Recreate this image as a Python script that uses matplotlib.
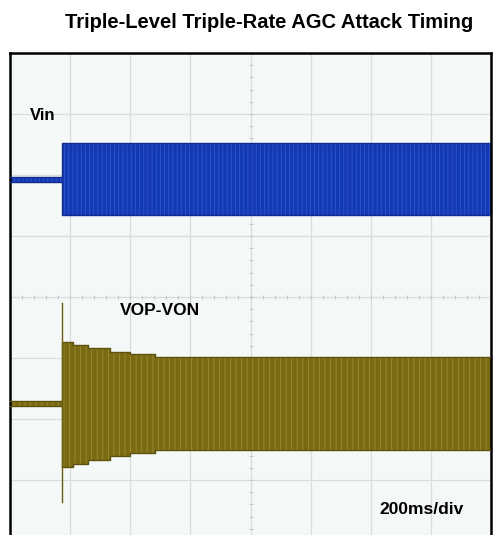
import numpy as np
import matplotlib.pyplot as plt

# screen in divisions: 8 x 8
# Vin envelope (x in div, top / bottom in div)
vin_t = [0.0, 0.86, 0.86, 8.0]
vin_top = [5.97, 5.97, 6.52, 6.52]
vin_bot = [5.89, 5.89, 5.34, 5.34]

# VOP-VON envelope, steps down as the AGC attacks
vop_t = [0.0, 0.86, 0.86, 1.05, 1.30, 1.66, 1.99, 2.41, 8.0]
vop_top = [2.30, 2.30, 3.26, 3.21, 3.16, 3.10, 3.07, 3.02, 3.02]
vop_bot = [2.22, 2.22, 1.21, 1.27, 1.33, 1.39, 1.44, 1.49, 1.51]
spike_t = 0.86
spike_lo, spike_hi = 0.64, 3.90

plt.rcParams['font.family'] = ['Liberation Sans', 'DejaVu Sans']
plt.rcParams['hatch.linewidth'] = 0.6

fig = plt.figure(figsize=(5, 5.35), dpi=100)
fig.text(0.538, 0.958, "Triple-Level Triple-Rate AGC Attack Timing",
         ha='center', va='center', fontsize=14.5, fontweight='bold')

ax = fig.add_axes([0.02, -0.0112, 0.962, 0.912])
ax.set_facecolor('#f4f8f6')
ax.set_axisbelow(True)
ax.set_xlim(0, 8)
ax.set_ylim(0, 8)
ax.set_xticks(range(9))
ax.set_yticks(range(9))
ax.grid(color='#d9dddb', lw=0.9)
ax.tick_params(length=0, labelbottom=False, labelleft=False)
for s in ax.spines.values():
    s.set_linewidth(1.8)

# centre lines with small ticks
ticks = np.arange(0, 8.01, 0.2)
ax.plot(ticks, np.full_like(ticks, 4), ls='none', marker='|', ms=3, color='#c4c8c6', mew=0.8, zorder=1)
ax.plot(np.full_like(ticks, 4), ticks, ls='none', marker='_', ms=3, color='#c4c8c6', mew=0.8, zorder=1)

# Vin trace
ax.fill_between(vin_t, vin_bot, vin_top, color='#1539b2', lw=0, zorder=2)
ax.fill_between(vin_t, vin_bot, vin_top, facecolor='none', edgecolor='#2a57d0',
                hatch='||||', lw=0, zorder=2)
ax.plot(vin_t, vin_top, color='#102c8c', lw=1, zorder=3)
ax.plot(vin_t, vin_bot, color='#102c8c', lw=1, zorder=3)

# VOP-VON trace
ax.fill_between(vop_t, vop_bot, vop_top, step='post', color='#7a6a14', lw=0, zorder=2)
ax.fill_between(vop_t, vop_bot, vop_top, step='post', facecolor='none',
                edgecolor='#9c8e2c', hatch='|||', lw=0, zorder=2)
ax.step(vop_t, vop_top, where='post', color='#5e5210', lw=1, zorder=3)
ax.step(vop_t, vop_bot, where='post', color='#5e5210', lw=1, zorder=3)
ax.plot([spike_t, spike_t], [spike_lo, spike_hi], color='#6b5e12', lw=1, zorder=3)

ax.text(0.33, 6.9, "Vin", fontsize=12, fontweight='bold')
ax.text(1.83, 3.7, "VOP-VON", fontsize=12.5, fontweight='bold')
ax.text(6.15, 0.45, "200ms/div", fontsize=12.5, fontweight='bold')

fig.savefig("out.png", dpi=100)
